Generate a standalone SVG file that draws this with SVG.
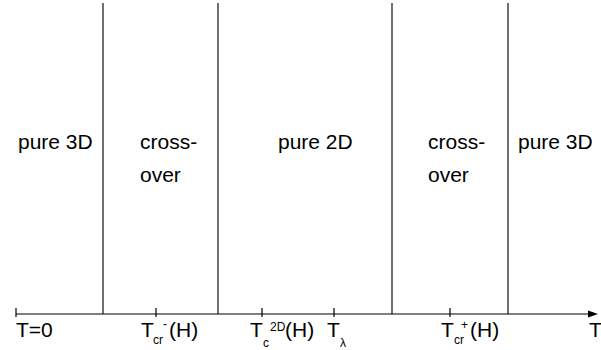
<svg xmlns="http://www.w3.org/2000/svg" width="601" height="350" viewBox="0 0 601 350">
<style>
text{font-family:"Liberation Sans",Arial,sans-serif;fill:#000}
.lbl{font-size:21px}
.ax{font-size:21px}
.sm{font-size:12px}
.bnd{stroke:#111;stroke-width:1.2;fill:none}
.axis{stroke:#000;stroke-width:1.2;fill:none}
</style>
<defs>
<marker id="arr" markerWidth="10" markerHeight="8" refX="0" refY="4" orient="auto" markerUnits="userSpaceOnUse">
<path d="M0,0.5 L10,4 L0,7.5 Z" fill="#000"/>
</marker>
</defs>
<g id="connectors">
<line class="axis" x1="16" y1="314" x2="588" y2="314" marker-end="url(#arr)"/>
<line class="axis" x1="16" y1="308" x2="16" y2="317"/>
<line class="axis" x1="156" y1="308" x2="156" y2="317"/>
<line class="axis" x1="262" y1="308" x2="262" y2="317"/>
<line class="axis" x1="334" y1="308" x2="334" y2="317"/>
<line class="axis" x1="450" y1="308" x2="450" y2="317"/>
<line class="bnd" x1="103" y1="3" x2="103" y2="314"/>
<line class="bnd" x1="218" y1="3" x2="218" y2="314"/>
<line class="bnd" x1="392" y1="3" x2="392" y2="314"/>
<line class="bnd" x1="508" y1="3" x2="508" y2="314"/>
</g>
<g id="region-pure3d-left"><text class="lbl" x="18" y="149">pure 3D</text></g>
<g id="region-crossover-left"><text class="lbl" x="140" y="149">cross-</text><text class="lbl" x="140" y="182">over</text></g>
<g id="region-pure2d"><text class="lbl" x="278" y="149">pure 2D</text></g>
<g id="region-crossover-right"><text class="lbl" x="428" y="149">cross-</text><text class="lbl" x="428" y="182">over</text></g>
<g id="region-pure3d-right"><text class="lbl" x="518" y="149">pure 3D</text></g>
<g id="label-T0"><text class="ax" x="16" y="337">T=0</text></g>
<g id="label-Tcr-minus"><text class="ax" x="141" y="337">T</text><text class="sm" x="153" y="344">cr</text><text class="sm" x="163" y="328">-</text><text class="ax" x="169" y="337">(H)</text></g>
<g id="label-Tc2D"><text class="ax" x="250" y="337">T</text><text class="sm" x="263" y="347">c</text><text class="sm" x="270" y="331">2D</text><text class="ax" x="285" y="337">(H)</text></g>
<g id="label-Tlambda"><text class="ax" x="327" y="337">T</text><text class="sm" x="340" y="347">λ</text></g>
<g id="label-Tcr-plus"><text class="ax" x="441" y="337">T</text><text class="sm" x="454" y="344">cr</text><text class="sm" x="461" y="329">+</text><text class="ax" x="470" y="337">(H)</text></g>
<g id="label-T"><text class="ax" x="589" y="337">T</text></g>
</svg>
